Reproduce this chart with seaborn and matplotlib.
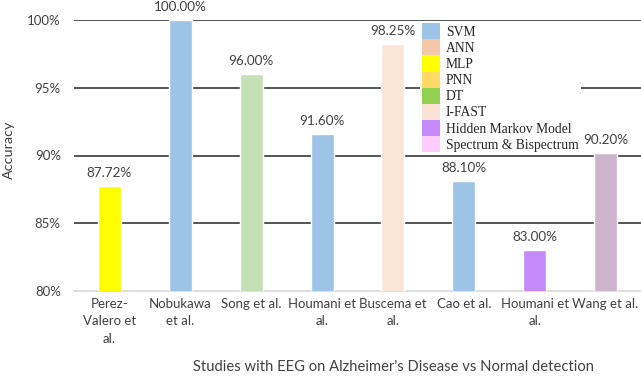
import matplotlib
matplotlib.use("Agg")
import matplotlib.pyplot as plt
from matplotlib.patches import Patch
import seaborn as sns
import pandas as pd

# Studies and their reported accuracy (%)
studies = ["Perez-\nValero et\nal.", "Nobukawa\net al.", "Song et al.", "Houmani et\nal.",
           "Buscema et\nal.", "Cao et al.", "Houmani et\nal.", "Wang et al."]
accuracy = [87.72, 100.00, 96.00, 91.60, 98.25, 88.10, 83.00, 90.20]
bar_colors = ["#FFFF00", "#9DC3E6", "#C5E0B4", "#9DC3E6",
              "#FBE5D6", "#9DC3E6", "#C58AF9", "#CCB5CC"]

# Classifier legend
methods = ["SVM", "ANN", "MLP", "PNN", "DT", "I-FAST", "Hidden Markov Model", "Spectrum & Bispectrum"]
method_colors = ["#9DC3E6", "#F4C7AA", "#FFFF00", "#FFD966", "#92D050", "#FBE2D5", "#C58AF9", "#FFCCFF"]

yticks = [80, 85, 90, 95, 100]

sns.set_theme(style="white")
plt.rcParams["font.family"] = ["Lato", "DejaVu Sans"]

# zero-width suffixes keep the two "Houmani et al." entries as separate categories
df = pd.DataFrame({"study": [s + "\u200b" * i for i, s in enumerate(studies)], "accuracy": accuracy})

fig = plt.figure(figsize=(6.41, 3.81), dpi=100)
ax = fig.add_axes([74 / 641, 1 - 291 / 381, 1 - 74 / 641, (291 - 20) / 381])

sns.barplot(data=df, x="study", y="accuracy", hue="study", palette=bar_colors,
            width=0.325, legend=False, ax=ax, zorder=3, saturation=1)

ax.set_ylim(80, 100)
ax.set_xlim(-0.5, len(studies) - 0.5)
ax.set_yticks(yticks)
ax.set_yticklabels([f"{t}%" for t in yticks], fontsize=9.5, color="#404040")
ax.set_xticks(range(len(studies)))
ax.set_xticklabels(studies, fontsize=9.5, color="#404040", linespacing=1.55)
ax.tick_params(axis="x", length=0, pad=5)
ax.tick_params(axis="y", length=0, pad=9.5)

for t in yticks[1:]:
    ax.axhline(t, color="#262626", linewidth=1.1, zorder=1)

for side in ["top", "right", "left"]:
    ax.spines[side].set_visible(False)
ax.spines["bottom"].set_color("#D9D9D9")
ax.spines["bottom"].set_linewidth(1.2)

for i, v in enumerate(accuracy):
    ax.annotate(f"{v:.2f}%", (i, v), xytext=(0, 5), textcoords="offset points",
                ha="center", va="bottom", fontsize=9.7, color="#404040", zorder=4)

ax.set_ylabel("Accuracy", fontsize=10.4, color="#404040")
ax.yaxis.set_label_coords(-0.104, 0.52)
ax.set_xlabel("Studies with EEG on Alzheimer's Disease vs Normal detection",
              fontsize=10.6, color="#404040")
ax.xaxis.set_label_coords(0.564, -0.255)

handles = [Patch(facecolor=c, edgecolor="none") for c in method_colors]
leg = ax.legend(handles, methods, loc="upper left", bbox_to_anchor=(420 / 641, 1 - 21 / 381),
                bbox_transform=fig.transFigure, frameon=True, fancybox=False,
                prop={"family": "Liberation Serif", "size": 9.8},
                handlelength=1.3, handleheight=1.45, labelspacing=0.0,
                handletextpad=0.45, borderpad=0.15, borderaxespad=0)
for txt in leg.get_texts():
    txt.set_color("#262626")
leg.get_frame().set_facecolor("white")
leg.get_frame().set_edgecolor("none")
leg.get_frame().set_alpha(1)
leg.set_zorder(5)

fig.savefig("out.png", dpi=100)
